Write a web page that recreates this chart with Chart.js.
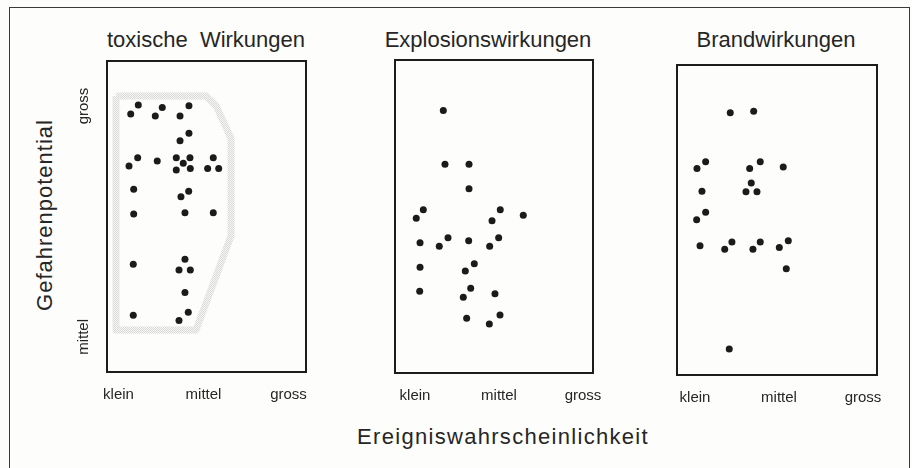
<!DOCTYPE html>
<html>
<head>
<meta charset="utf-8">
<script src="https://cdn.jsdelivr.net/npm/chart.js@4.4.1/dist/chart.umd.min.js"></script>
<style>
  body { margin: 0; background: #fdfdfb; }
  #page { position: relative; width: 912px; height: 468px; overflow: hidden; font-family: "Liberation Sans", Arial, sans-serif; color: #262626; }
  #page canvas { position: absolute; left: 0; top: 0; }
  .frame { position: absolute; left: 9px; top: 7px; width: 899px; height: 470px; border: 1.5px solid #3a3a3a; }
  .title { position: absolute; top: 29px; font-size: 22px; line-height: 22px; white-space: pre; transform: translateX(-50%); }
  .axis-title { position: absolute; font-size: 22px; line-height: 22px; letter-spacing: 1px; white-space: nowrap; }
</style>
</head>
<body>
<div id="page">
  <div class="frame"></div>
  <div class="title" style="left:206px">toxische  Wirkungen</div>
  <div class="title" style="left:488px">Explosionswirkungen</div>
  <div class="title" style="left:776px">Brandwirkungen</div>
  <div class="axis-title" style="left:45px; top:215px; transform: translate(-50%, -50%) rotate(-90deg);">Gefahrenpotential</div>
  <div class="axis-title" style="left:503px; top:426px; transform: translateX(-50%); letter-spacing: 1.3px;">Ereigniswahrscheinlichkeit</div>
  <canvas id="c0" width="912" height="468"></canvas>
  <canvas id="c1" width="912" height="468"></canvas>
  <canvas id="c2" width="912" height="468"></canvas>
</div>
<script>
// axis categories: klein = 1, mittel = 2, gross = 3 (x); mittel = 1, gross = 2 (y)
const xTickValues = [1, 2, 3];
const xTickLabels = ['klein', 'mittel', 'gross'];
const yTickValues = [1, 2];
const yTickLabels = ['mittel', 'gross'];

// toxische Wirkungen
const toxX = [1.233, 1.144, 1.515, 1.433, 1.829, 1.724, 1.829, 1.724, 1.226, 1.124, 1.456,
  1.680, 1.762, 1.841, 1.680, 1.845, 2.115, 2.049, 2.179, 1.179, 1.826, 1.735, 1.179, 1.782,
  2.115, 1.174, 1.782, 1.712, 1.845, 1.782, 1.174, 1.821, 1.712];
const toxY = [2.004, 1.965, 1.994, 1.957, 2.001, 1.957, 1.882, 1.850, 1.776, 1.740, 1.762,
  1.776, 1.752, 1.776, 1.723, 1.729, 1.776, 1.729, 1.729, 1.639, 1.631, 1.607, 1.532, 1.538,
  1.538, 1.315, 1.336, 1.290, 1.290, 1.192, 1.094, 1.107, 1.071];
// shaded outline around the toxic cases
const hullX = [0.971, 2.030, 2.150, 2.324, 2.324, 1.912, 0.971, 0.971];
const hullY = [2.043, 2.043, 2.000, 1.860, 1.437, 1.030, 1.030, 2.043];

// Explosionswirkungen
const explX = [1.337, 1.357, 1.643, 1.643, 1.099, 1.015, 2.015, 1.917, 2.289, 1.060, 1.289,
  1.393, 1.639, 1.889, 1.996, 1.060, 1.706, 1.599, 1.056, 1.663, 1.575, 1.952, 1.615, 2.012, 1.885];
const explY = [1.980, 1.748, 1.748, 1.642, 1.551, 1.514, 1.551, 1.503, 1.527, 1.408, 1.393,
  1.430, 1.416, 1.393, 1.430, 1.302, 1.317, 1.286, 1.198, 1.211, 1.172, 1.187, 1.081, 1.095, 1.056];

// Brandwirkungen
const brandX = [1.420, 1.699, 1.127, 1.024, 1.651, 1.777, 2.051, 1.083, 1.670, 1.607, 1.738,
  1.127, 1.020, 1.060, 1.354, 1.440, 1.690, 1.777, 2.004, 2.111, 2.087, 1.408];
const brandY = [1.970, 1.977, 1.759, 1.729, 1.729, 1.759, 1.736, 1.631, 1.667, 1.629, 1.629,
  1.540, 1.508, 1.395, 1.380, 1.411, 1.380, 1.411, 1.387, 1.417, 1.296, 0.948];

const pts = (xs, ys) => xs.map((x, i) => ({ x: x, y: ys[i] }));

// stippled light grey pattern for the outline
const pc = document.createElement('canvas');
pc.width = 2; pc.height = 2;
const pctx = pc.getContext('2d');
pctx.fillStyle = '#f6f6f4'; pctx.fillRect(0, 0, 2, 2);
pctx.fillStyle = '#dadada'; pctx.fillRect(0, 0, 1, 1); pctx.fillRect(1, 1, 1, 1);
const stipple = pctx.createPattern(pc, 'repeat');

const panels = [
  { left: 107, top: 61, right: 306, bottom: 372, xMin: 0.865, xMax: 3.206, yMin: 0.848, yMax: 2.195,
    sets: [pts(toxX, toxY)], hull: pts(hullX, hullY), yLabels: true },
  { left: 395, top: 60, right: 593, bottom: 373, xMin: 0.762, xMax: 3.119, yMin: 0.844, yMax: 2.199,
    sets: [pts(explX, explY)] },
  { left: 677, top: 65, right: 877, bottom: 375, xMin: 0.786, xMax: 3.167, yMin: 0.836, yMax: 2.177,
    sets: [pts(brandX, brandY)] }
];

const FONT = '"Liberation Sans", Arial, sans-serif';
const X_AXIS_H = 40;

const framePlugin = {
  id: 'frame',
  afterDraw(chart, args, opts) {
    const ctx = chart.ctx;
    const a = chart.chartArea;
    ctx.save();
    ctx.strokeStyle = '#1c1c1c';
    ctx.lineWidth = 2;
    ctx.strokeRect(a.left, a.top, a.right - a.left, a.bottom - a.top);
    if (opts.yLabels) {
      const ys = chart.scales.y;
      ctx.font = '15px ' + FONT;
      ctx.fillStyle = '#262626';
      ctx.textAlign = 'center';
      ctx.textBaseline = 'alphabetic';
      yTickValues.forEach((v, i) => {
        ctx.save();
        ctx.translate(opts.yLabelX, ys.getPixelForValue(v));
        ctx.rotate(-Math.PI / 2);
        ctx.fillText(yTickLabels[i], 0, 0);
        ctx.restore();
      });
    }
    ctx.restore();
  }
};

panels.forEach((p, idx) => {
  const datasets = p.sets.map(d => ({
    data: d,
    backgroundColor: '#1b1b1b',
    borderWidth: 0,
    pointRadius: 3.5,
    pointStyle: 'circle',
    order: 0
  }));
  if (p.hull) {
    datasets.push({
      type: 'line',
      data: p.hull,
      borderColor: stipple,
      borderWidth: 7,
      borderJoinStyle: 'round',
      pointRadius: 0,
      fill: false,
      tension: 0,
      order: 1
    });
  }
  new Chart(document.getElementById('c' + idx), {
    type: 'scatter',
    data: { datasets: datasets },
    plugins: [framePlugin],
    options: {
      responsive: false,
      animation: false,
      devicePixelRatio: 1,
      layout: {
        padding: { left: p.left, top: p.top, right: 912 - p.right, bottom: 468 - p.bottom - X_AXIS_H }
      },
      plugins: {
        legend: { display: false },
        tooltip: { enabled: false },
        frame: { yLabels: !!p.yLabels, yLabelX: 88 }
      },
      scales: {
        x: {
          type: 'linear',
          min: p.xMin,
          max: p.xMax,
          grid: { display: false, drawTicks: false },
          border: { display: false },
          afterBuildTicks: s => { s.ticks = xTickValues.map(v => ({ value: v })); },
          afterFit: s => { s.height = X_AXIS_H; },
          ticks: {
            padding: 14,
            color: '#262626',
            font: { family: FONT, size: 15 },
            maxRotation: 0,
            callback: v => xTickLabels[xTickValues.indexOf(v)]
          }
        },
        y: {
          type: 'linear',
          min: p.yMin,
          max: p.yMax,
          display: false
        }
      }
    }
  });
});
</script>
</body>
</html>
